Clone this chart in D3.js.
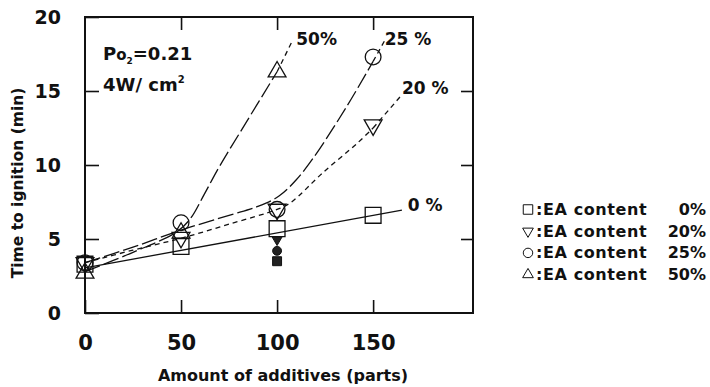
<!DOCTYPE html>
<html>
<head>
<meta charset="utf-8">
<script src="https://cdn.jsdelivr.net/npm/d3@7"></script>
<style>
  body { margin: 0; background: #fff; }
  svg text { font-family: "DejaVu Sans", "Liberation Sans", sans-serif; fill: #111; }
</style>
</head>
<body>
<svg id="chart" width="710" height="387"></svg>
<script>
// measured points (amount of additives in parts -> time to ignition in min)
var additives = [0, 50, 100, 150];
var ea0  = [3.3, 4.5, 5.7, 6.6];
var ea20 = [3.4, 5.1, 7.0, 12.7];
var ea25 = [3.4, 6.1, 7.0, 17.3];
var ea50 = [2.7, 5.4, 16.3];          // only 0, 50, 100 parts

// filled markers stacked at 100 parts
var filledX = [100, 100, 100];
var filledY = [4.95, 4.2, 3.5];
var filledShape = ['triDown', 'circle', 'square'];

// hand drawn guide curves [parts, min]
var curve0   = [[0, 3.05], [165, 6.95]];
var curve20  = [[0, 3.4], [25, 4.25], [50, 5.05], [75, 6.0], [100, 7.0], [107, 7.45], [124, 9.5], [142, 11.5], [150, 12.5]];
var curve20x = [[150, 12.5], [164, 14.6]];
var curve25  = [[0, 3.4], [25, 4.45], [50, 5.6], [75, 6.6], [90, 7.2], [101, 7.9], [110, 9.0], [119, 10.5], [136, 13.9], [150, 17.0]];
var curve25x = [[150, 17.0], [156, 18.4]];
var curve50  = [[0, 2.8], [25, 4.1], [48, 5.5], [55, 6.4], [62, 8.0], [70, 9.9], [84, 12.9], [100, 16.3]];
var curve50x = [[100, 16.3], [108, 18.4]];

var xTicks = [0, 50, 100, 150];
var yTicks = [0, 5, 10, 15, 20];

var legendLabels = [':EA content', ':EA content', ':EA content', ':EA content'];
var legendPct = ['0%', '20%', '25%', '50%'];
var legendShape = ['square', 'triDown', 'circle', 'triUp'];

var curveLabels = ['50%', '25 %', '20 %', '0 %'];
var curveLabelAt = [[110, 18.1], [156, 18.1], [165, 14.8], [168, 6.9]];

/**************************************************************************************/

var svg = d3.select('#chart');
var plotL = 85, plotR = 473, plotT = 17, plotB = 313;

var x = d3.scaleLinear().domain([0, 202]).range([plotL, plotR]);
var y = d3.scaleLinear().domain([0, 20]).range([plotB, plotT]);

function shapePath(shape, size){
    if(shape == 'square'){ return d3.symbol().type(d3.symbolSquare).size(size)(); }
    if(shape == 'circle'){ return d3.symbol().type(d3.symbolCircle).size(size*0.78)(); }
    return d3.symbol().type(d3.symbolTriangle).size(size*0.55)();
}
function shapeTransform(shape, px, py){
    var t = 'translate(' +px+ ',' +py+ ')';
    if(shape == 'triDown'){ t += ' rotate(180)'; }
    return t;
}

/**************************************************************************************/
// axes with inward ticks on all four sides

svg.append('g')
    .attr('transform', 'translate(0,' +plotB+ ')')
    .call(d3.axisBottom(x).tickValues(xTicks).tickSizeInner(-13).tickSizeOuter(0).tickPadding(22))
    .call(function(g){ g.select('.domain').remove(); })
    .selectAll('text').style('font-size', '21px').style('font-weight', 'bold').attr('fill', '#111');

svg.append('g')
    .attr('transform', 'translate(0,' +plotT+ ')')
    .call(d3.axisTop(x).tickValues(xTicks.slice(1)).tickSizeInner(-13).tickSizeOuter(0).tickFormat(''))
    .call(function(g){ g.select('.domain').remove(); });

svg.append('g')
    .attr('transform', 'translate(' +plotL+ ',0)')
    .call(d3.axisLeft(y).tickValues(yTicks).tickSizeInner(-14).tickSizeOuter(0).tickPadding(24))
    .call(function(g){ g.select('.domain').remove(); })
    .selectAll('text').style('font-size', '19px').style('font-weight', 'bold').attr('fill', '#111');

svg.append('g')
    .attr('transform', 'translate(' +plotR+ ',0)')
    .call(d3.axisRight(y).tickValues(yTicks.slice(1, 4)).tickSizeInner(-12).tickSizeOuter(0).tickFormat(''))
    .call(function(g){ g.select('.domain').remove(); });

svg.selectAll('.tick line').attr('stroke', '#111').attr('stroke-width', 1.6);

svg.append('rect')
    .attr('x', plotL).attr('y', plotT)
    .attr('width', plotR - plotL).attr('height', plotB - plotT)
    .attr('fill', 'none').attr('stroke', '#111').attr('stroke-width', 2);

/**************************************************************************************/
// axis titles and condition note

svg.append('text')
    .attr('x', 283).attr('y', 381)
    .attr('text-anchor', 'middle')
    .style('font-size', '16px').style('font-weight', 'bold')
    .text('Amount of additives (parts)');

svg.append('text')
    .attr('transform', 'translate(23,183) rotate(-90)')
    .attr('text-anchor', 'middle')
    .style('font-size', '15.5px').style('font-weight', 'bold')
    .text('Time to ignition (min)');

var note = svg.append('text')
    .attr('x', 103).attr('y', 60)
    .style('font-size', '18px').style('font-weight', 'bold');
note.append('tspan').text('P');
note.append('tspan').style('font-size', '15px').text('o');
note.append('tspan').attr('dy', 4).style('font-size', '9px').text('2');
note.append('tspan').attr('dy', -4).text('=0.21');

var note2 = svg.append('text')
    .attr('x', 103).attr('y', 91)
    .style('font-size', '18px').style('font-weight', 'bold');
note2.append('tspan').text('4W/ cm');
note2.append('tspan').attr('dy', -8).style('font-size', '10px').text('2');

/**************************************************************************************/
// guide curves

var line = d3.line()
    .x(function(d){ return x(d[0]); })
    .y(function(d){ return y(d[1]); })
    .curve(d3.curveCatmullRom);

function drawCurve(pts, dash){
    svg.append('path')
        .attr('d', line(pts))
        .attr('fill', 'none')
        .attr('stroke', '#111')
        .attr('stroke-width', 1.3)
        .attr('stroke-dasharray', dash);
}

drawCurve(curve0, null);
drawCurve(curve20, '5,4');
drawCurve(curve20x, '5,4');
drawCurve(curve25, '16,4');
drawCurve(curve25x, '5,4');
drawCurve(curve50, '16,4');
drawCurve(curve50x, '5,4');

svg.selectAll('.curve-label')
    .data(curveLabels)
    .enter().append('text')
    .attr('class', 'curve-label')
    .attr('x', function(d, i){ return x(curveLabelAt[i][0]); })
    .attr('y', function(d, i){ return y(curveLabelAt[i][1]); })
    .style('font-size', '17px').style('font-weight', 'bold')
    .text(function(d){ return d; });

/**************************************************************************************/
// markers

function drawSeries(vals, shape){
    svg.append('g').selectAll('path')
        .data(vals)
        .enter().append('path')
        .attr('d', shapePath(shape, 250))
        .attr('transform', function(d, i){ return shapeTransform(shape, x(additives[i]), y(d)); })
        .attr('fill', 'none')
        .attr('stroke', '#111')
        .attr('stroke-width', 1.3);
}

drawSeries(ea0, 'square');
drawSeries(ea25, 'circle');
drawSeries(ea20, 'triDown');
drawSeries(ea50, 'triUp');

svg.append('g').selectAll('path')
    .data(filledY)
    .enter().append('path')
    .attr('d', function(d, i){ return shapePath(filledShape[i], 80); })
    .attr('transform', function(d, i){ return shapeTransform(filledShape[i], x(filledX[i]), y(d)); })
    .attr('fill', '#222')
    .attr('stroke', '#111');

/**************************************************************************************/
// legend

var legend = svg.append('g');
var rows = legend.selectAll('g')
    .data(legendLabels)
    .enter().append('g')
    .attr('transform', function(d, i){ return 'translate(0,' +(215 + i*21.7)+ ')'; });

rows.append('path')
    .attr('d', function(d, i){ return shapePath(legendShape[i], 90); })
    .attr('transform', function(d, i){ return shapeTransform(legendShape[i], 528, -5.5); })
    .attr('fill', 'none').attr('stroke', '#111').attr('stroke-width', 1);

rows.append('text')
    .attr('x', 536)
    .style('font-size', '16px').style('font-weight', 'bold').style('letter-spacing', '0.6px')
    .text(function(d){ return d; });

rows.append('text')
    .attr('x', 706).attr('text-anchor', 'end')
    .style('font-size', '16px').style('font-weight', 'bold')
    .text(function(d, i){ return legendPct[i]; });
</script>
</body>
</html>
